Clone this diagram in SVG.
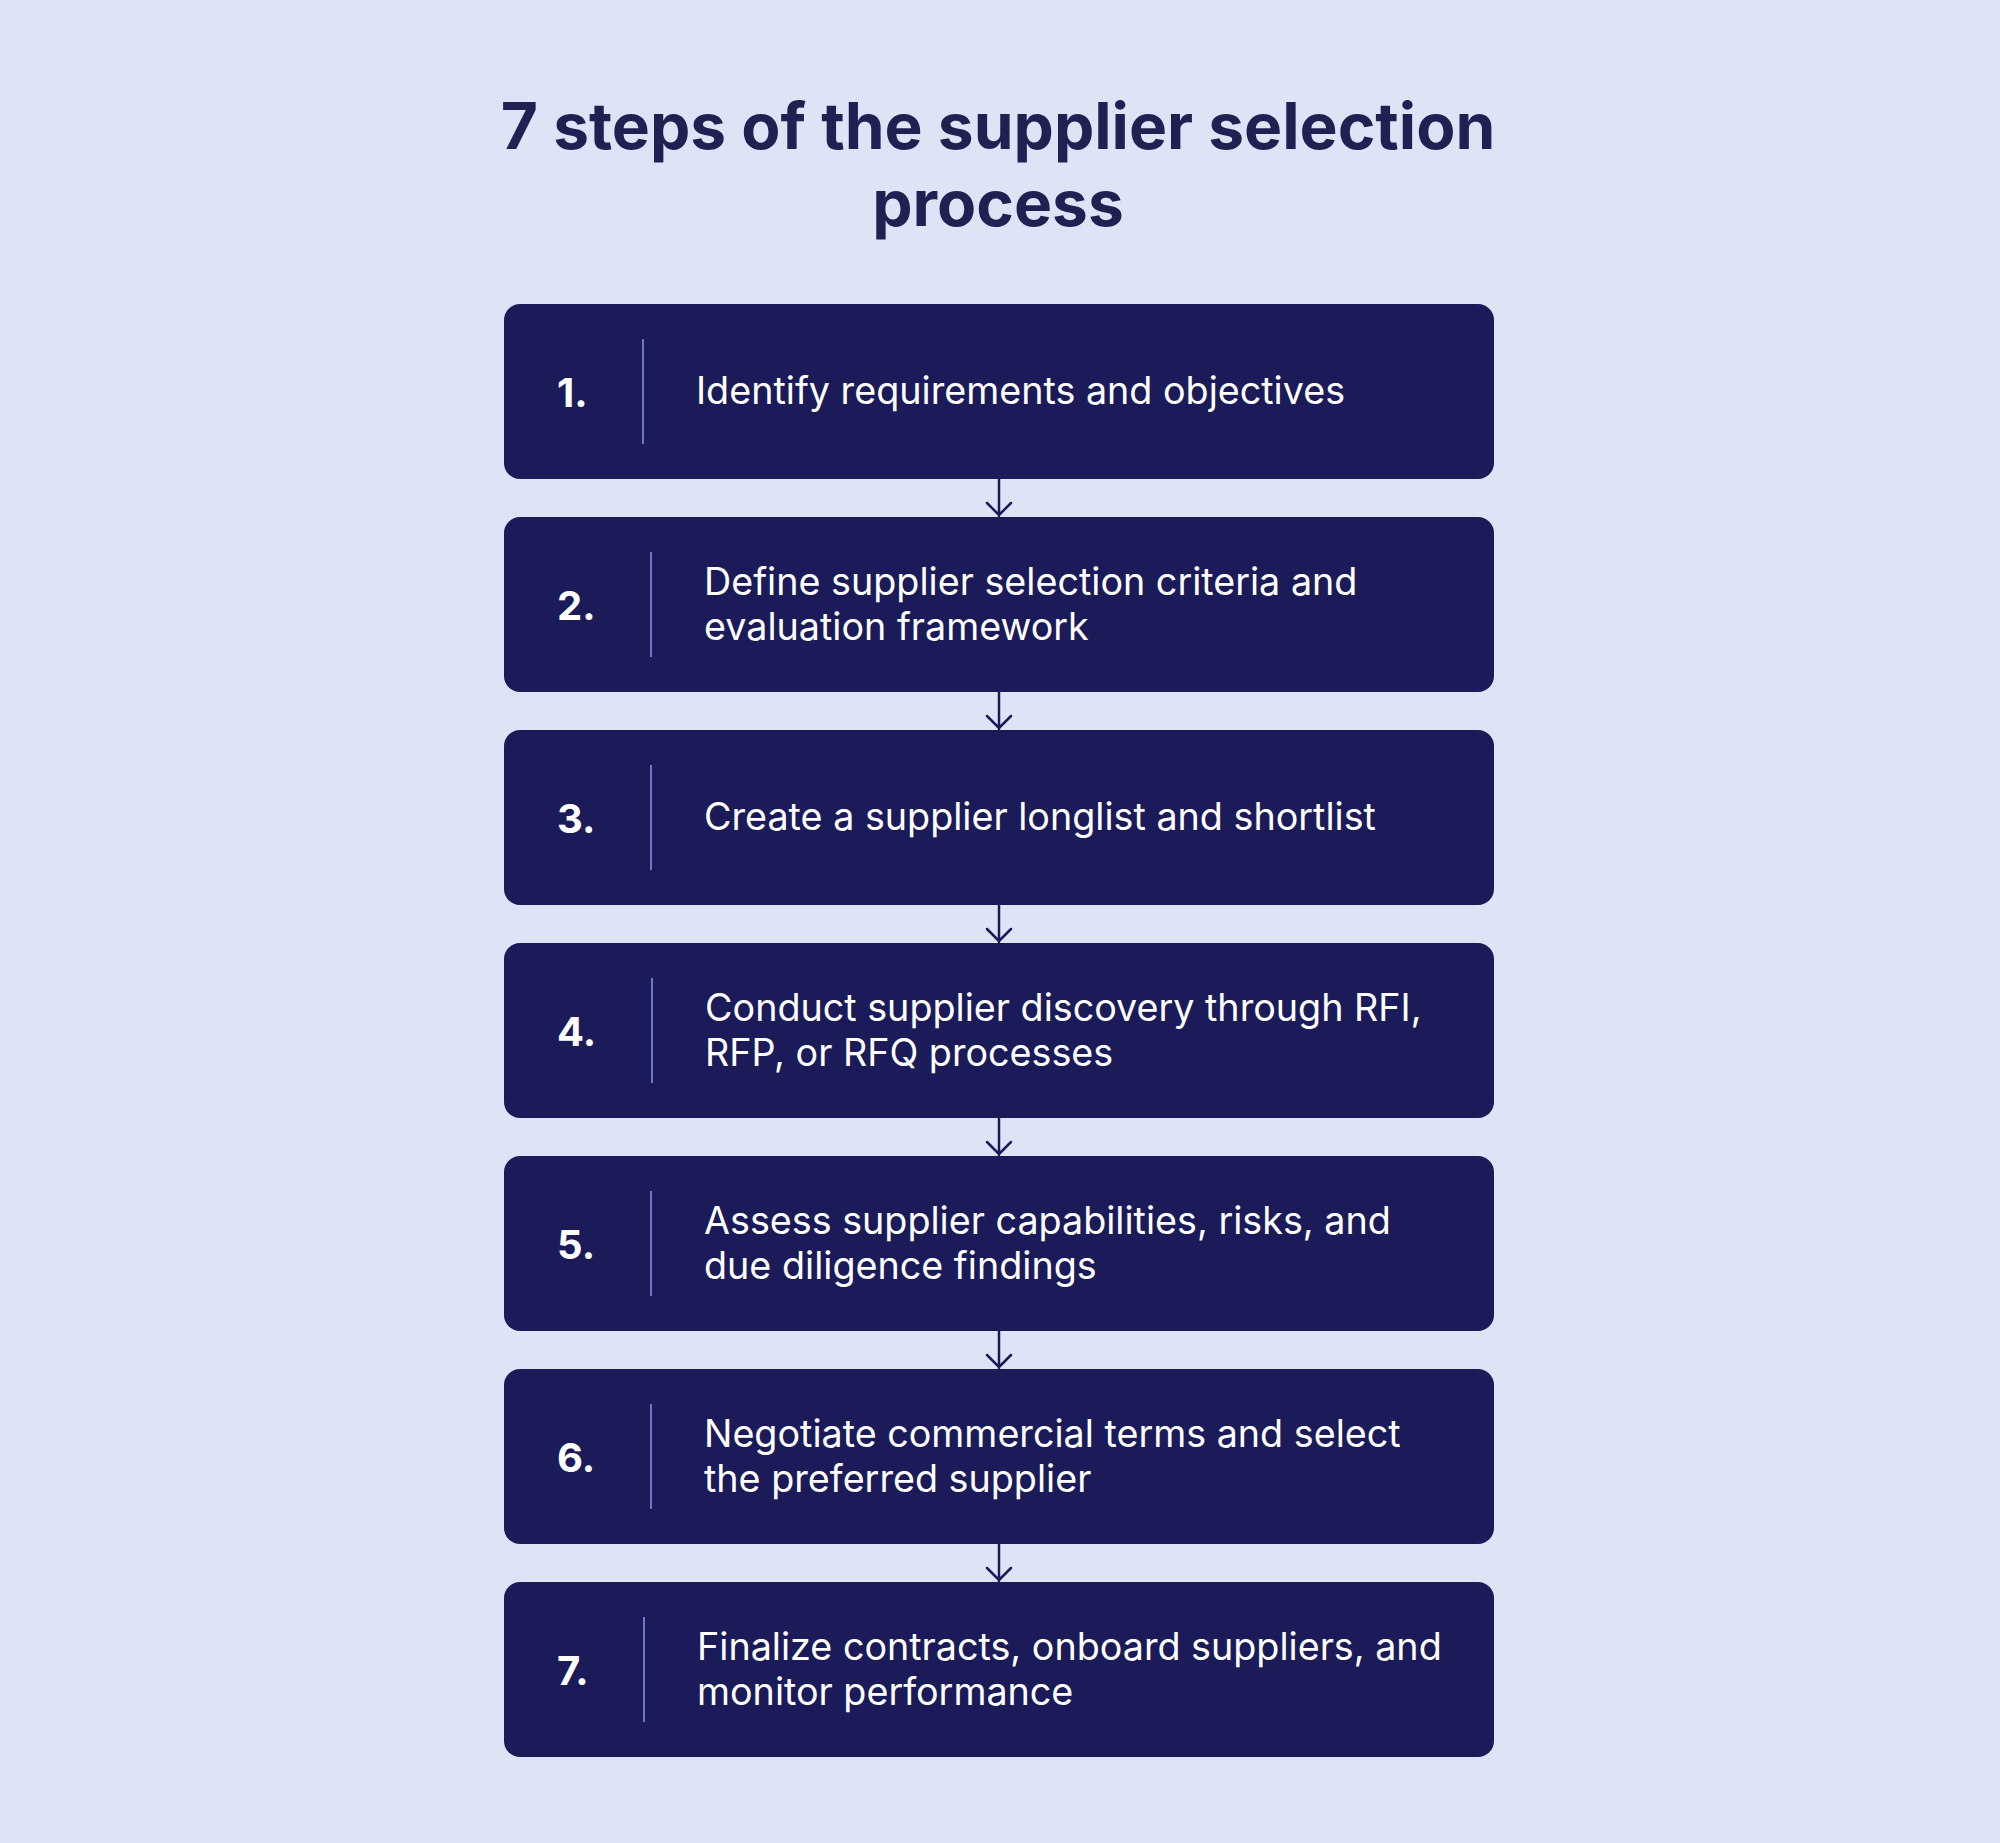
<svg xmlns="http://www.w3.org/2000/svg" width="2000" height="1843" viewBox="0 0 2000 1843">
<defs>
<style>
.bg{fill:#dfe3f6}
.title{font-family:Inter,"Liberation Sans",sans-serif;font-weight:700;font-size:64px;fill:#1e2152;text-anchor:middle}
.box{fill:#1b1b5a}
.num{font-family:Inter,"Liberation Sans",sans-serif;font-weight:700;font-size:40px;fill:#ffffff}
.txt{font-family:Inter,"Liberation Sans",sans-serif;font-weight:400;font-size:37.7px;fill:#ffffff}
.div{stroke:#7376c6;stroke-width:2}
.conn{stroke:#1b1b5a;stroke-width:2.5;fill:none;stroke-linecap:round;stroke-linejoin:round}
</style>
</defs>
<rect class="bg" x="0" y="0" width="2000" height="1843"/>
<g id="title">
<text class="title" x="998" y="149">7 steps of the supplier selection</text>
<text class="title" x="998" y="226">process</text>
</g>
<g id="connectors">
<path class="conn" d="M999 479V516M987 503L999 515L1011 503"/>
<path class="conn" d="M999 692V729M987 716L999 728L1011 716"/>
<path class="conn" d="M999 905V942M987 929L999 941L1011 929"/>
<path class="conn" d="M999 1118V1155M987 1142L999 1154L1011 1142"/>
<path class="conn" d="M999 1331V1368M987 1355L999 1367L1011 1355"/>
<path class="conn" d="M999 1544V1581M987 1568L999 1580L1011 1568"/>
</g>
<g id="step1">
<rect class="box" x="504" y="304" width="990" height="175" rx="16"/>
<text class="num" x="557" y="407">1.</text>
<line class="div" x1="643" y1="339" x2="643" y2="444"/>
<text class="txt" x="696" y="404">Identify requirements and objectives</text>
</g>
<g id="step2">
<rect class="box" x="504" y="517" width="990" height="175" rx="16"/>
<text class="num" x="557" y="620">2.</text>
<line class="div" x1="651" y1="552" x2="651" y2="657"/>
<text class="txt" x="704" y="595">Define supplier selection criteria and</text>
<text class="txt" x="704" y="640">evaluation framework</text>
</g>
<g id="step3">
<rect class="box" x="504" y="730" width="990" height="175" rx="16"/>
<text class="num" x="557" y="833">3.</text>
<line class="div" x1="651" y1="765" x2="651" y2="870"/>
<text class="txt" x="704" y="830">Create a supplier longlist and shortlist</text>
</g>
<g id="step4">
<rect class="box" x="504" y="943" width="990" height="175" rx="16"/>
<text class="num" x="557" y="1046">4.</text>
<line class="div" x1="652" y1="978" x2="652" y2="1083"/>
<text class="txt" x="705" y="1021">Conduct supplier discovery through RFI,</text>
<text class="txt" x="705" y="1066">RFP, or RFQ processes</text>
</g>
<g id="step5">
<rect class="box" x="504" y="1156" width="990" height="175" rx="16"/>
<text class="num" x="557" y="1259">5.</text>
<line class="div" x1="651" y1="1191" x2="651" y2="1296"/>
<text class="txt" x="704" y="1234">Assess supplier capabilities, risks, and</text>
<text class="txt" x="704" y="1279">due diligence findings</text>
</g>
<g id="step6">
<rect class="box" x="504" y="1369" width="990" height="175" rx="16"/>
<text class="num" x="557" y="1472">6.</text>
<line class="div" x1="651" y1="1404" x2="651" y2="1509"/>
<text class="txt" x="704" y="1447">Negotiate commercial terms and select</text>
<text class="txt" x="704" y="1492">the preferred supplier</text>
</g>
<g id="step7">
<rect class="box" x="504" y="1582" width="990" height="175" rx="16"/>
<text class="num" x="557" y="1685">7.</text>
<line class="div" x1="644" y1="1617" x2="644" y2="1722"/>
<text class="txt" x="697" y="1660">Finalize contracts, onboard suppliers, and</text>
<text class="txt" x="697" y="1705">monitor performance</text>
</g>
</svg>
